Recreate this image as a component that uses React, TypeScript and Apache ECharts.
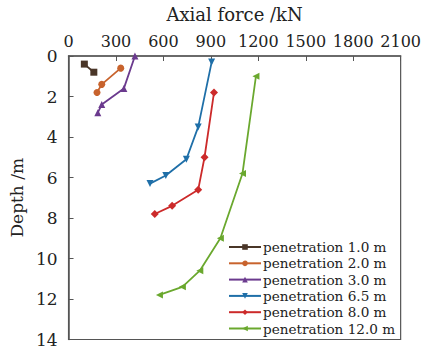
import React, { useEffect, useRef } from "react";
import * as echarts from "echarts";

// Axial force (kN) vs depth (m) for each penetration stage
const seriesNames = [
  "penetration 1.0 m",
  "penetration 2.0 m",
  "penetration 3.0 m",
  "penetration 6.5 m",
  "penetration 8.0 m",
  "penetration 12.0 m",
];

const pen10: [number, number][] = [[100, 0.4], [160, 0.8]];
const pen20: [number, number][] = [[330, 0.6], [210, 1.4], [180, 1.8]];
const pen30: [number, number][] = [[420, 0.0], [350, 1.6], [210, 2.4], [185, 2.8]];
const pen65: [number, number][] = [[905, 0.3], [820, 3.5], [745, 5.1], [615, 5.9], [515, 6.3]];
const pen80: [number, number][] = [[920, 1.8], [860, 5.0], [820, 6.6], [655, 7.4], [545, 7.8]];
const pen120: [number, number][] = [[1185, 1.0], [1100, 5.8], [960, 9.0], [830, 10.6], [720, 11.4], [575, 11.8]];

const seriesData = [pen10, pen20, pen30, pen65, pen80, pen120];
const colors = ["#4a3628", "#c8632d", "#6b3a8e", "#1f6fa8", "#cc2a2a", "#6aa82e"];
const symbols = ["rect", "circle", "triangle", "triangle", "diamond", "triangle"];
const rotations = [0, 0, 0, 180, 0, 90];

const FONT = "DejaVu Serif";

export default function App() {
  const ref = useRef<HTMLDivElement>(null);

  useEffect(() => {
    if (!ref.current) return;
    const chart = echarts.init(ref.current, null, { renderer: "svg" });
    chart.setOption({
      animation: false,
      backgroundColor: "#ffffff",
      textStyle: { fontFamily: FONT },
      grid: {
        left: 66,
        top: 53,
        right: 21,
        bottom: 5,
        show: true,
        borderColor: "#555",
        borderWidth: 1.2,
      },
      xAxis: {
        type: "value",
        position: "top",
        min: 0,
        max: 2100,
        interval: 300,
        name: "Axial force /kN",
        nameLocation: "middle",
        nameGap: 33,
        nameTextStyle: { fontFamily: FONT, fontSize: 18, color: "#222" },
        axisLine: { show: true, lineStyle: { color: "#555", width: 1.5 } },
        axisTick: { show: true, inside: true, length: 5, lineStyle: { color: "#555" } },
        axisLabel: {
          fontFamily: FONT,
          fontSize: 16,
          color: "#222",
          margin: 7,
          formatter: (v: number) => String(v),
        },
        splitLine: { show: false },
      },
      yAxis: {
        type: "value",
        inverse: true,
        min: 0,
        max: 14,
        interval: 2,
        name: "Depth /m",
        nameLocation: "middle",
        nameGap: 42,
        nameTextStyle: { fontFamily: FONT, fontSize: 17, color: "#222" },
        axisLine: { show: true, lineStyle: { color: "#555", width: 1.5 } },
        axisTick: { show: true, inside: true, length: 5, lineStyle: { color: "#555" } },
        axisLabel: { fontFamily: FONT, fontSize: 17, color: "#222", margin: 11 },
        splitLine: { show: false },
      },
      legend: {
        left: 223,
        top: 235,
        orient: "vertical",
        itemWidth: 32,
        itemHeight: 7,
        itemGap: 2.3,
        textStyle: { fontFamily: FONT, fontSize: 13.6, color: "#222", padding: [0, 0, 0, -3] },
        data: seriesNames,
      },
      series: seriesData.map((d, i) => ({
        name: seriesNames[i],
        type: "line",
        data: d,
        color: colors[i],
        symbol: symbols[i],
        symbolSize: i === 4 ? 8 : 7,
        symbolRotate: rotations[i],
        lineStyle: { width: 1.8 },
        itemStyle: { color: colors[i] },
      })),
    });
    return () => chart.dispose();
  }, []);

  return (
    <div
      ref={ref}
      style={{ position: "fixed", left: 0, top: 0, width: 424, height: 348 }}
    />
  );
}
